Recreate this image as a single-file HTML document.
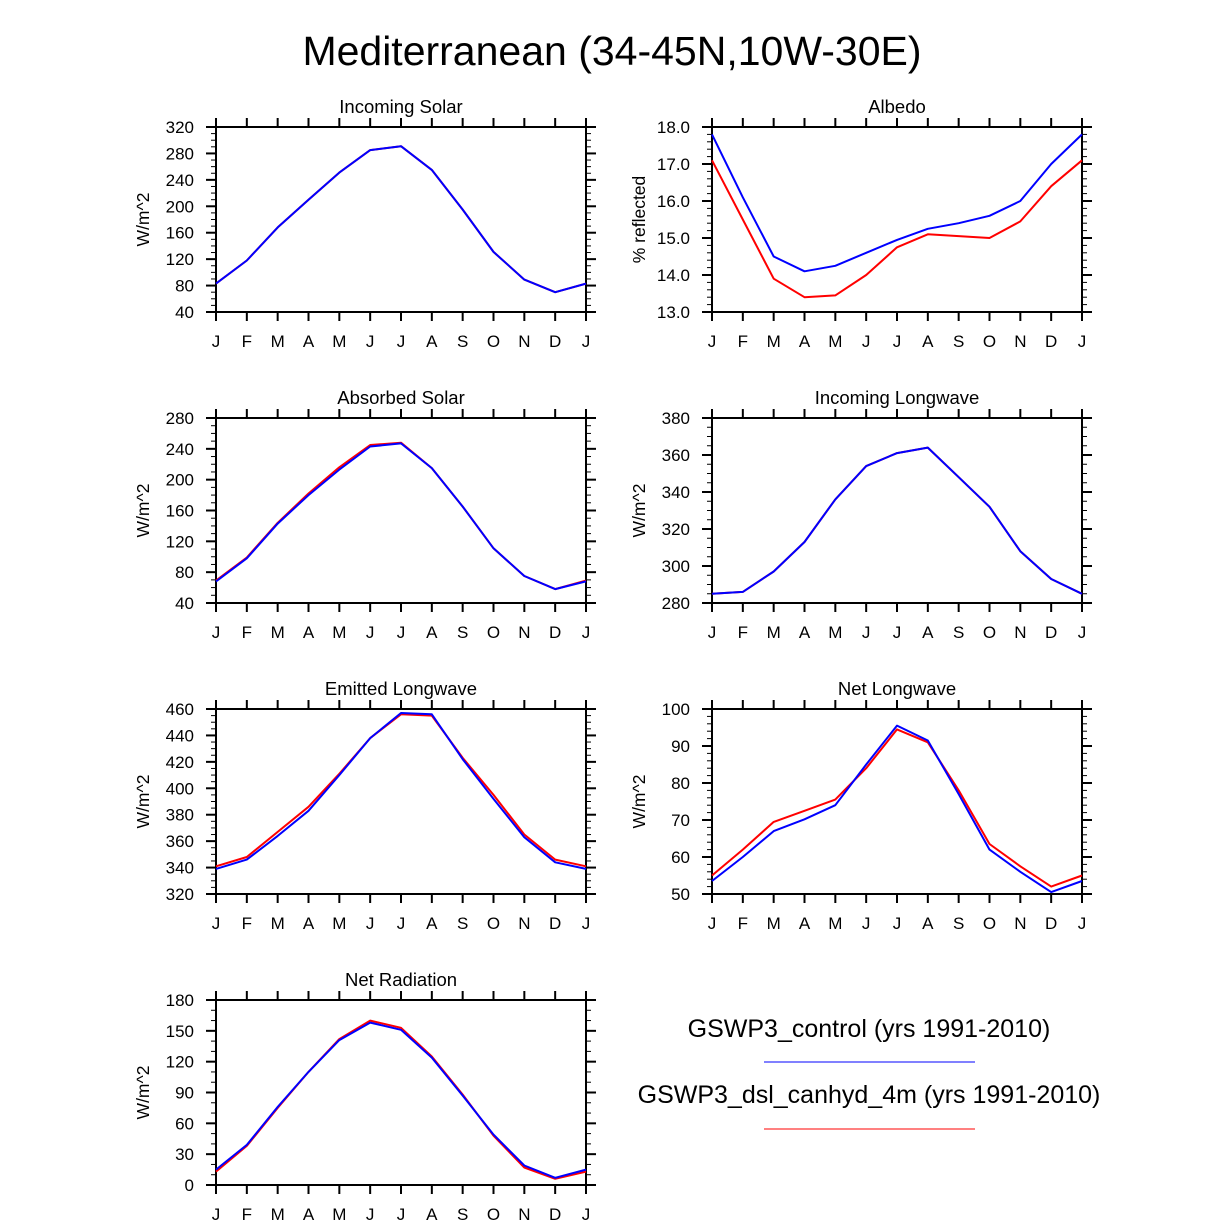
<!DOCTYPE html>
<html><head><meta charset="utf-8"><style>
body{margin:0;background:#fff}
svg{display:block;font-family:"Liberation Sans",Arial,sans-serif}
</style></head><body>
<svg id="chart" width="1224" height="1222" viewBox="0 0 1224 1222" xmlns="http://www.w3.org/2000/svg">
<rect width="1224" height="1222" fill="#fff"/>
<text x="612" y="65" font-size="41" text-anchor="middle">Mediterranean (34-45N,10W-30E)</text>
<g>
<text x="869" y="1037" font-size="25" text-anchor="middle">GSWP3_control (yrs 1991-2010)</text>
<line x1="764" x2="975" y1="1062" y2="1062" stroke="#0000ff" stroke-width="1"/>
<text x="869" y="1103" font-size="25" text-anchor="middle">GSWP3_dsl_canhyd_4m (yrs 1991-2010)</text>
<line x1="764" x2="975" y1="1129" y2="1129" stroke="#ff0000" stroke-width="1"/>
</g>
</svg>
<script>
const months = ["J","F","M","A","M","J","J","A","S","O","N","D","J"];
const solarRed = [83,118,168,210,251,285,291,255,195,131,89,70,83];
const solarBlue = [83,118,168,210,251,285,291,255,195,131,89,70,83];
const albedoRed = [17.1,15.5,13.9,13.4,13.45,14.0,14.75,15.1,15.05,15.0,15.45,16.4,17.1];
const albedoBlue = [17.8,16.1,14.5,14.1,14.25,14.6,14.95,15.25,15.4,15.6,16.0,17.0,17.8];
const absRed = [69,99,144,182,216,245,248,215,165,111,75,58,69];
const absBlue = [68,98,143,180,213,243,247,215,165,111,75,58,68];
const inlwRed = [285,286,297,313,336,354,361,364,348,332,308,293,285];
const inlwBlue = [285,286,297,313,336,354,361,364,348,332,308,293,285];
const emRed = [341,348,367,386,411,438,456,455,423,395,365,346,341];
const emBlue = [339,346,364,383,410,438,457,456,422,392,363,344,339];
const nlwRed = [55,62,69.5,72.5,75.5,84,94.5,91,78,63.5,57.5,52,55];
const nlwBlue = [53.5,60,67,70.2,74,85,95.5,91.5,77,62,56,50.5,53.5];
const nrRed = [13,38,75,110,142,160,153,125,88,48,17,6,13];
const nrBlue = [15,39,76,110,141,158,151,124,87,49,19,7,15];

const panels = [
 {name:"incoming-solar",title:"Incoming Solar",yt:"W/m^2",x:216,y:127,min:40,max:320,step:40,minor:10,dec:0,red:solarRed,blue:solarBlue},
 {name:"albedo",title:"Albedo",yt:"% reflected",x:712,y:127,min:13,max:18,step:1,minor:0.2,dec:1,red:albedoRed,blue:albedoBlue},
 {name:"absorbed-solar",title:"Absorbed Solar",yt:"W/m^2",x:216,y:418,min:40,max:280,step:40,minor:10,dec:0,red:absRed,blue:absBlue},
 {name:"incoming-longwave",title:"Incoming Longwave",yt:"W/m^2",x:712,y:418,min:280,max:380,step:20,minor:5,dec:0,red:inlwRed,blue:inlwBlue},
 {name:"emitted-longwave",title:"Emitted Longwave",yt:"W/m^2",x:216,y:709,min:320,max:460,step:20,minor:5,dec:0,red:emRed,blue:emBlue},
 {name:"net-longwave",title:"Net Longwave",yt:"W/m^2",x:712,y:709,min:50,max:100,step:10,minor:2,dec:0,red:nlwRed,blue:nlwBlue},
 {name:"net-radiation",title:"Net Radiation",yt:"W/m^2",x:216,y:1000,min:0,max:180,step:30,minor:10,dec:0,red:nrRed,blue:nrBlue}
];
const W=370,H=185,NS="http://www.w3.org/2000/svg";
const svg=document.getElementById("chart");
function mk(tag,attrs,parent){const e=document.createElementNS(NS,tag);for(const k in attrs)e.setAttribute(k,attrs[k]);parent.appendChild(e);return e;}
panels.forEach(p=>{
 const g=mk("g",{},svg);
 
 
 const xs=i=>p.x+i*W/12;
 const ys=v=>p.y+H-(v-p.min)/(p.max-p.min)*H;
 const t=mk("text",{x:p.x+W/2,y:p.y-14,"font-size":18.5,"text-anchor":"middle"},g);t.textContent=p.title;
 
 
 const yt=mk("text",{x:0,y:0,"font-size":17.5,"text-anchor":"middle",transform:`translate(${p.x-67},${p.y+H/2}) rotate(-90)`},g);yt.textContent=p.yt;
 
 
 const nMin=Math.round((p.max-p.min)/p.minor);
 for(let k=0;k<=nMin;k++){const v=p.min+k*p.minor;const yy=ys(v);
  mk("line",{x1:p.x-5,x2:p.x,y1:yy,y2:yy,stroke:"#000","stroke-width":1},g);
  mk("line",{x1:p.x+W,x2:p.x+W+5,y1:yy,y2:yy,stroke:"#000","stroke-width":1},g);}
 const nMaj=Math.round((p.max-p.min)/p.step);
 for(let k=0;k<=nMaj;k++){const v=p.min+k*p.step;const yy=ys(v);
  mk("line",{x1:p.x-10,x2:p.x,y1:yy,y2:yy,stroke:"#000","stroke-width":2},g);
  mk("line",{x1:p.x+W,x2:p.x+W+10,y1:yy,y2:yy,stroke:"#000","stroke-width":2},g);
  const lb=mk("text",{x:p.x-22,y:yy+6,"font-size":17,"text-anchor":"end"},g);lb.textContent=v.toFixed(p.dec);
  
  }
 months.forEach((m,i)=>{const xx=xs(i);
  mk("line",{x1:xx,x2:xx,y1:p.y+H,y2:p.y+H+9,stroke:"#000","stroke-width":2},g);
  mk("line",{x1:xx,x2:xx,y1:p.y-9,y2:p.y,stroke:"#000","stroke-width":2},g);
  const lb=mk("text",{x:xx,y:p.y+H+35,"font-size":17,"text-anchor":"middle"},g);lb.textContent=m;
  
  });
 mk("rect",{x:p.x,y:p.y,width:W,height:H,fill:"none",stroke:"#000","stroke-width":2},g);
 [["red","#ff0000"],["blue","#0000ff"]].forEach(([k,c])=>{
  const pts=p[k].map((v,i)=>xs(i).toFixed(1)+","+ys(v).toFixed(1)).join(" ");
  const l=mk("polyline",{points:pts,fill:"none",stroke:c,"stroke-width":2,"stroke-linejoin":"round"},g);
  
  
 });
});
</script>
</body></html>
